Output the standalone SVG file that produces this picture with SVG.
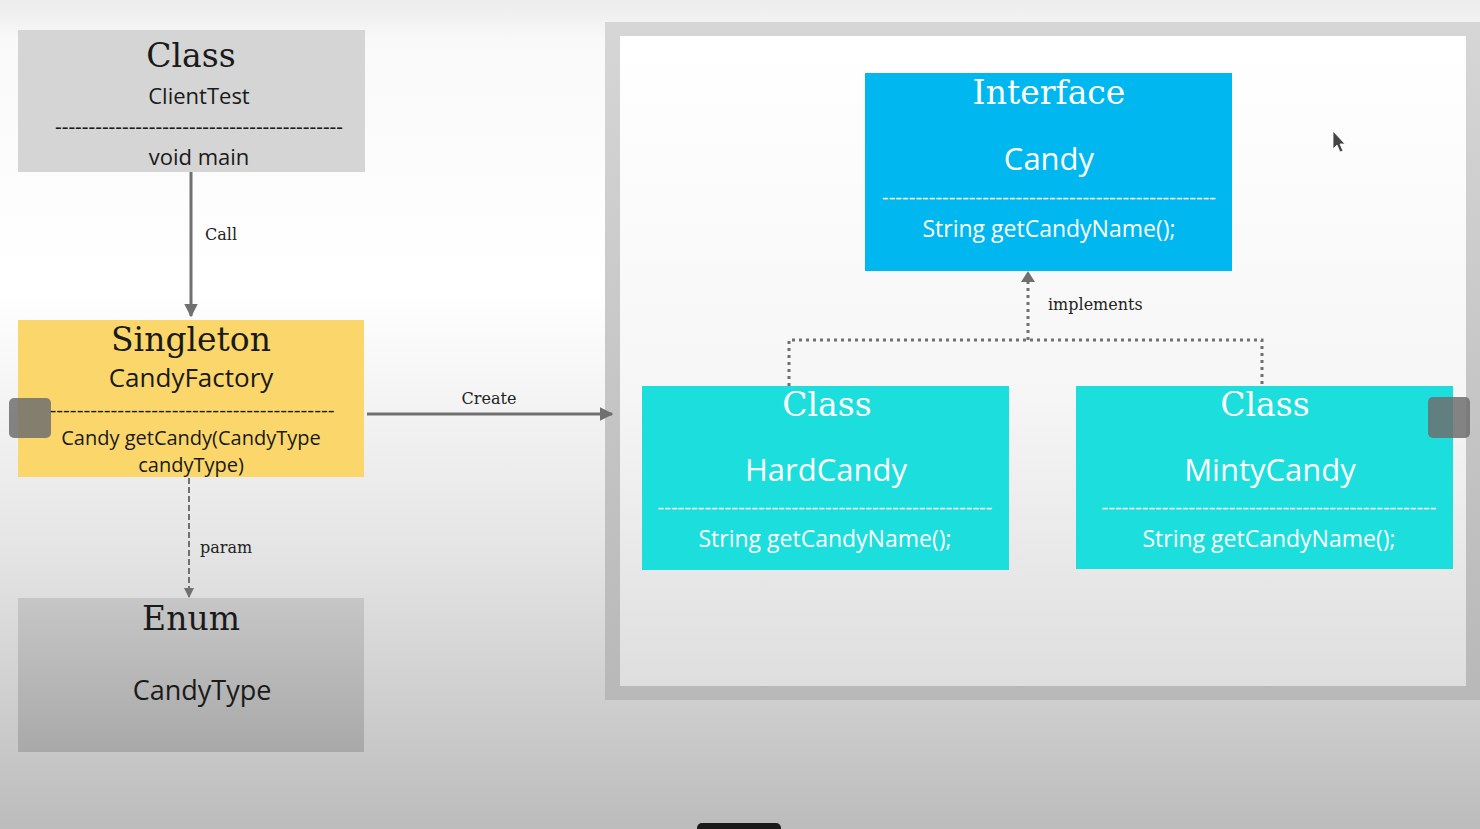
<svg xmlns="http://www.w3.org/2000/svg" width="1480" height="829" viewBox="0 0 1480 829">
  <defs>
    <linearGradient id="bg" x1="0" y1="0" x2="0" y2="1">
      <stop offset="0" stop-color="#ececec"/>
      <stop offset="0.05" stop-color="#f9f9f9"/>
      <stop offset="0.35" stop-color="#ffffff"/>
      <stop offset="0.65" stop-color="#e6e6e6"/>
      <stop offset="1" stop-color="#bcbcbc"/>
    </linearGradient>
    <linearGradient id="frameG" x1="0" y1="0" x2="0" y2="1">
      <stop offset="0" stop-color="#d6d6d6"/>
      <stop offset="1" stop-color="#b8b8b8"/>
    </linearGradient>
    <linearGradient id="innerG" x1="0" y1="0" x2="0" y2="1">
      <stop offset="0" stop-color="#ffffff"/>
      <stop offset="0.55" stop-color="#f6f6f6"/>
      <stop offset="1" stop-color="#dedede"/>
    </linearGradient>
    <linearGradient id="enumG" x1="0" y1="0" x2="0" y2="1">
      <stop offset="0" stop-color="#c6c6c6"/>
      <stop offset="1" stop-color="#a9a9a9"/>
    </linearGradient>
    <marker id="arr" viewBox="0 0 10 10" refX="9" refY="5" markerWidth="4.5" markerHeight="4.5" orient="auto" markerUnits="strokeWidth">
      <path d="M0,0 L10,5 L0,10 z" fill="#707070"/>
    </marker>
    <marker id="arrS" viewBox="0 0 10 10" refX="9" refY="5" markerWidth="5" markerHeight="5" orient="auto" markerUnits="strokeWidth">
      <path d="M0,0 L10,5 L0,10 z" fill="#707070"/>
    </marker>
  </defs>
  <style>
    .title { font-family: "DejaVu Serif", "Liberation Serif", serif; font-size: 33px; text-anchor: middle; }
    .sans { font-family: "Open Sans", "Noto Sans", sans-serif; text-anchor: middle; }
    .lbl { font-family: "DejaVu Serif", "Liberation Serif", serif; font-size: 16px; fill: #222; }
    .dark { fill: #1a1a1a; }
    .white { fill: #ffffff; }
    .conn { stroke: #707070; fill: none; }
  </style>

  <rect x="0" y="0" width="1480" height="829" fill="url(#bg)"/>

  <!-- package frame -->
  <g id="frame">
    <rect x="605" y="22" width="880" height="678" fill="url(#frameG)"/>
    <rect x="620" y="36" width="846" height="650" fill="url(#innerG)"/>
  </g>

  <!-- connectors -->
  <g id="connectors">
    <line class="conn" x1="191" y1="172" x2="191" y2="316" stroke-width="3" marker-end="url(#arr)"/>
    <text class="lbl" x="205" y="240">Call</text>
    <line class="conn" x1="367" y1="414" x2="612" y2="414" stroke-width="3" marker-end="url(#arr)"/>
    <text class="lbl" x="489" y="404" text-anchor="middle">Create</text>
    <line class="conn" x1="189" y1="478" x2="189" y2="597" stroke-width="2" stroke-dasharray="6,3" marker-end="url(#arrS)"/>
    <text class="lbl" x="200" y="553">param</text>
    <path class="conn" d="M789,386 V340 H1262 V386" stroke-width="3" stroke-dasharray="3,4"/>
    <line class="conn" x1="1028" y1="340" x2="1028" y2="281" stroke-width="3" stroke-dasharray="3,4"/>
    <path d="M1021,282 L1028,271 L1035,282 z" fill="#707070"/>
    <text class="lbl" x="1048" y="310">implements</text>
  </g>

  <!-- ClientTest -->
  <g id="clientTest">
    <rect x="18" y="30" width="347" height="142" fill="#d5d5d5"/>
    <text class="title dark" x="191" y="67">Class</text>
    <text class="sans dark" x="199" y="104" font-size="22">ClientTest</text>
    <text class="sans dark" x="199" y="134" font-size="22" textLength="288" lengthAdjust="spacingAndGlyphs">-------------------------------------------</text>
    <text class="sans dark" x="199" y="165" font-size="22">void main</text>
  </g>

  <!-- CandyFactory -->
  <g id="candyFactory">
    <rect x="18" y="320" width="346" height="157" fill="#fbd76b"/>
    <text class="title dark" x="191" y="351">Singleton</text>
    <text class="sans dark" x="191" y="387" font-size="26">CandyFactory</text>
    <text class="sans dark" x="192" y="417" font-size="20" textLength="285" lengthAdjust="spacingAndGlyphs">------------------------------------------</text>
    <text class="sans dark" x="191" y="445" font-size="20">Candy getCandy(CandyType</text>
    <text class="sans dark" x="191" y="472" font-size="20">candyType)</text>
  </g>

  <!-- CandyType -->
  <g id="candyType">
    <rect x="18" y="598" width="346" height="154" fill="url(#enumG)"/>
    <text class="title dark" x="191" y="630">Enum</text>
    <text class="sans dark" x="202" y="700" font-size="27">CandyType</text>
  </g>

  <!-- Candy interface -->
  <g id="candy">
    <rect x="865" y="73" width="367" height="198" fill="#00b7ef"/>
    <text class="title white" x="1049" y="104">Interface</text>
    <text class="sans white" x="1049" y="170" font-size="31">Candy</text>
    <text class="sans white" x="1049" y="204" font-size="20" textLength="334" lengthAdjust="spacingAndGlyphs">--------------------------------------------------</text>
    <text class="sans white" x="1049" y="237" font-size="23">String getCandyName();</text>
  </g>

  <!-- HardCandy -->
  <g id="hardCandy">
    <rect x="642" y="386" width="367" height="184" fill="#1bdedd"/>
    <text class="title white" x="827" y="416">Class</text>
    <text class="sans white" x="826" y="481" font-size="31">HardCandy</text>
    <text class="sans white" x="825" y="514" font-size="20" textLength="335" lengthAdjust="spacingAndGlyphs">--------------------------------------------------</text>
    <text class="sans white" x="825" y="547" font-size="23">String getCandyName();</text>
  </g>

  <!-- MintyCandy -->
  <g id="mintyCandy">
    <rect x="1076" y="386" width="377" height="183" fill="#1bdedd"/>
    <text class="title white" x="1265" y="416">Class</text>
    <text class="sans white" x="1270" y="481" font-size="31">MintyCandy</text>
    <text class="sans white" x="1269" y="514" font-size="20" textLength="335" lengthAdjust="spacingAndGlyphs">--------------------------------------------------</text>
    <text class="sans white" x="1269" y="547" font-size="23">String getCandyName();</text>
  </g>

  <!-- viewer overlay controls -->
  <g id="overlay">
    <rect x="9" y="398" width="42" height="40" rx="5" fill="#6e6e6e" fill-opacity="0.85"/>
    <rect x="1428" y="397" width="42" height="41" rx="5" fill="#6e6e6e" fill-opacity="0.85"/>
    <path d="M1333,131 L1333,149 L1337,145 L1340,152 L1343,151 L1340,144 L1345,144 z" fill="#444" stroke="#fff" stroke-width="0.8"/>
    <rect x="697" y="823" width="84" height="12" rx="5" fill="#1a1a1a"/>
  </g>
</svg>
